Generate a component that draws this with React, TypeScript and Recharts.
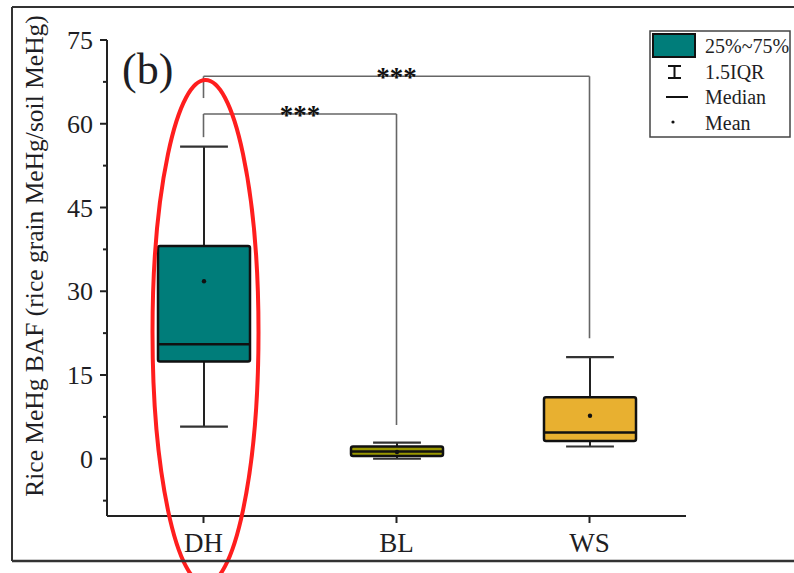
import React from 'react';
import { ComposedChart, Bar, XAxis, YAxis, ReferenceLine, ReferenceDot } from 'recharts';

// ---- data ----
const categories = ['DH', 'BL', 'WS'];
const whiskerLow = [5.75, 0.0, 2.2];
const q1 = [17.4, 0.5, 3.2];
const median = [20.5, 1.3, 4.7];
const q3 = [38.1, 2.2, 11.0];
const whiskerHigh = [55.9, 2.9, 18.2];
const means = [31.8, 1.2, 7.7];
const boxColors = ['#007D7A', '#9A9800', '#E8B030'];

const yTicks = [-7.5, 0, 7.5, 15, 22.5, 30, 37.5, 45, 52.5, 60, 67.5, 75];
const yLabeled = [0, 15, 30, 45, 60, 75];

const bracketFrom = ['DH', 'DH'];
const bracketTo = ['BL', 'WS'];
const bracketLevel = [61.75, 68.5];
const bracketLeftEnd = [57.6, 64.6];
const bracketRightEnd = [6.05, 21.6];
const bracketText = ['***', '***'];

const legendLabels = ['25%~75%', '1.5IQR', 'Median', 'Mean'];
const yAxisTitle = 'Rice MeHg BAF (rice grain MeHg/soil MeHg)';
const panelLabel = '(b)';

const data = categories.map((name, i) => ({
  name,
  range: [whiskerLow[i], whiskerHigh[i]],
  q1: q1[i],
  median: median[i],
  q3: q3[i],
  mean: means[i],
  color: boxColors[i],
}));

const FONT = '"Liberation Serif", "Times New Roman", serif';
const INK = '#1e1e24';

const BoxShape = (props: any) => {
  const { x, y, width, height, payload } = props;
  const lo = payload.range[0];
  const hi = payload.range[1];
  const top = Math.min(y, y + height);
  const h = Math.abs(height);
  const py = (v: number) => top + (h * (hi - v)) / (hi - lo);
  const cx = x + width / 2;
  const capHalf = width * 0.26;
  return (
    <g>
      <line x1={cx} x2={cx} y1={py(hi)} y2={py(payload.q3)} stroke="#222" strokeWidth={2} />
      <line x1={cx} x2={cx} y1={py(payload.q1)} y2={py(lo)} stroke="#222" strokeWidth={2} />
      <line x1={cx - capHalf} x2={cx + capHalf} y1={py(hi)} y2={py(hi)} stroke="#333" strokeWidth={2.2} />
      <line x1={cx - capHalf} x2={cx + capHalf} y1={py(lo)} y2={py(lo)} stroke="#333" strokeWidth={2.2} />
      <rect
        x={x}
        y={py(payload.q3)}
        width={width}
        height={py(payload.q1) - py(payload.q3)}
        fill={payload.color}
        stroke="#111"
        strokeWidth={2.5}
        rx={2}
      />
      <line x1={x} x2={x + width} y1={py(payload.median)} y2={py(payload.median)} stroke="#111" strokeWidth={2.6} />
      <circle cx={cx} cy={py(payload.mean)} r={2.2} fill="#111" />
    </g>
  );
};

const YTick = (props: any) => {
  const { x, y, payload } = props;
  const axisX = x + 14;
  const major = yLabeled.includes(payload.value);
  const len = major ? 7 : 4;
  return (
    <g>
      <line x1={axisX - len} x2={axisX} y1={y} y2={y} stroke="#222" strokeWidth={2} />
      {major && (
        <text x={x} y={y} dy="0.35em" textAnchor="end" fontFamily={FONT} fontSize={26} fill={INK}>
          {payload.value}
        </text>
      )}
    </g>
  );
};

const StarLabel = (props: any) => {
  const vb = props.viewBox || {};
  const cx = (vb.x || 0) + (vb.width || 0) / 2;
  const cy = vb.y || 0;
  return (
    <text x={cx} y={cy + 10} textAnchor="middle" fontFamily={FONT} fontWeight="bold" fontSize={27} fill="#111">
      {props.text}
    </text>
  );
};

export default function App() {
  return (
    <div style={{ position: 'absolute', left: 0, top: 0, width: 794, height: 573, overflow: 'hidden', background: '#fff' }}>
      <ComposedChart width={794} height={573} data={data} margin={{ top: 40, right: 108, bottom: 0, left: 47 }}>
        <XAxis
          dataKey="name"
          height={57}
          tickSize={7}
          tickMargin={10}
          axisLine={{ stroke: '#222', strokeWidth: 2 }}
          tickLine={{ stroke: '#222', strokeWidth: 2 }}
          tick={{ fontFamily: FONT, fontSize: 27, fill: INK }}
        />
        <YAxis
          width={60}
          domain={[-10.25, 75]}
          ticks={yTicks}
          interval={0}
          allowDataOverflow
          tickSize={7}
          tickMargin={7}
          tickLine={false}
          axisLine={{ stroke: '#222', strokeWidth: 2 }}
          tick={<YTick />}
        />
        <Bar dataKey="range" barSize={92} shape={<BoxShape />} isAnimationActive={false} />
        {bracketFrom.map((from, i) => (
          <ReferenceLine
            key={'h' + i}
            segment={[{ x: from, y: bracketLevel[i] }, { x: bracketTo[i], y: bracketLevel[i] }]}
            stroke="#666"
            strokeWidth={1.6}
            ifOverflow="visible"
            label={(p: any) => <StarLabel {...p} text={bracketText[i]} />}
          />
        ))}
        {bracketFrom.map((from, i) => (
          <ReferenceLine
            key={'l' + i}
            segment={[{ x: from, y: bracketLevel[i] }, { x: from, y: bracketLeftEnd[i] }]}
            stroke="#666"
            strokeWidth={1.6}
            ifOverflow="visible"
          />
        ))}
        {bracketTo.map((to, i) => (
          <ReferenceLine
            key={'r' + i}
            segment={[{ x: to, y: bracketLevel[i] }, { x: to, y: bracketRightEnd[i] }]}
            stroke="#666"
            strokeWidth={1.6}
            ifOverflow="visible"
          />
        ))}
        <ReferenceDot
          x="DH"
          y={23.4}
          r={0}
          ifOverflow="visible"
          shape={(p: any) => (
            <ellipse cx={p.cx + 2} cy={p.cy + 4} rx={53} ry={252} fill="none" stroke="#FF1E1E" strokeWidth={4} />
          )}
        />
      </ComposedChart>
      <svg width={794} height={573} style={{ position: 'absolute', left: 0, top: 0, pointerEvents: 'none' }}>
        <line x1={12} x2={794} y1={7} y2={7} stroke="#333" strokeWidth={2} />
        <line x1={12} x2={12} y1={7} y2={561} stroke="#333" strokeWidth={2} />
        <line x1={12} x2={794} y1={561} y2={561} stroke="#333" strokeWidth={2.5} />
        <text
          transform="translate(34,256) rotate(-90)"
          textAnchor="middle"
          dominantBaseline="central"
          fontFamily={FONT}
          fontSize={25.5}
          fill={INK}
        >
          {yAxisTitle}
        </text>
        <text x={122} y={84} fontFamily={FONT} fontSize={44} fill={INK}>
          {panelLabel}
        </text>
        <rect x={650} y={31} width={140} height={106} fill="#fff" stroke="#444" strokeWidth={1.5} />
        <rect x={653} y={34} width={42} height={23} fill={boxColors[0]} stroke="#111" strokeWidth={2} />
        <line x1={674.5} x2={674.5} y1={66} y2={78} stroke="#111" strokeWidth={2} />
        <line x1={668} x2={681} y1={66} y2={66} stroke="#111" strokeWidth={2} />
        <line x1={668} x2={681} y1={78} y2={78} stroke="#111" strokeWidth={2} />
        <line x1={666} x2={688} y1={97} y2={97} stroke="#111" strokeWidth={2} />
        <circle cx={673} cy={122} r={1.6} fill="#111" />
        {legendLabels.map((t, i) => (
          <text key={t} x={705} y={46 + i * 25.5} dy="0.35em" fontFamily={FONT} fontSize={20} fill={INK}>
            {t}
          </text>
        ))}
      </svg>
    </div>
  );
}
